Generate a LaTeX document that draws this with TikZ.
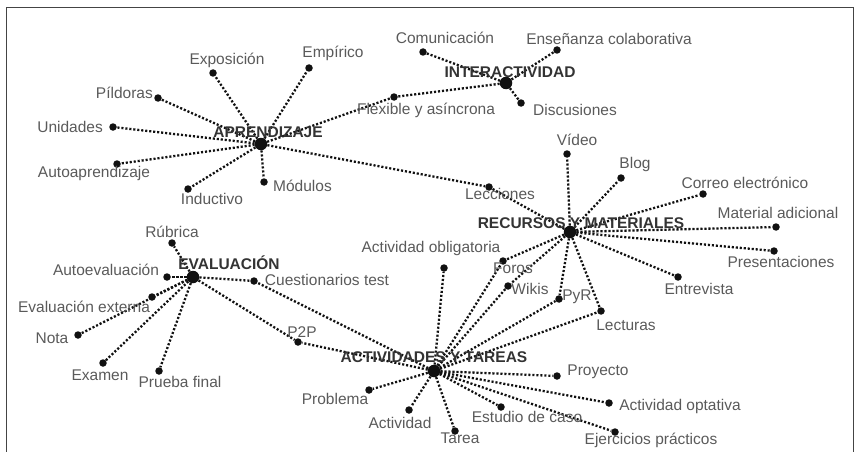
\documentclass[tikz,border=0pt]{standalone}
\usepackage{fontspec}
\setmainfont{Liberation Sans}
\usetikzlibrary{backgrounds}
\definecolor{ink}{HTML}{111111}
\definecolor{lbl}{HTML}{5A5A5A}
\definecolor{hubtxt}{HTML}{333333}
\definecolor{rim}{HTML}{444444}
\tikzset{
  leaf/.style={circle,fill=ink,inner sep=0pt,minimum size=7.5pt},
  hub/.style={leaf,minimum size=12.5pt},
  txt/.style={text=lbl,inner sep=1pt,font=\fontsize{15.5}{17}\selectfont},
  htxt/.style={txt,text=hubtxt,font=\fontsize{15.5}{17}\selectfont\bfseries},
  link/.style={draw=ink,line width=2.3pt,dash pattern=on 2.1pt off 1.9pt},
}

\begin{document}
\begin{tikzpicture}[x=1pt,y=-1pt]
  \useasboundingbox (0,0) rectangle (854,452);
  \draw[draw=rim,line width=1pt] (6,452) -- (6,8) -- (853,8) -- (853,452);
  % hubs
  \node[hub] (apr) at (261,144) {};
  \node[htxt] (apr-t) at (268,132) {APRENDIZAJE};
  \node[hub] (int) at (506,83) {};
  \node[htxt] (int-t) at (510,72) {INTERACTIVIDAD};
  \node[hub] (rec) at (570,232) {};
  \node[htxt] (rec-t) at (581,223) {RECURSOS Y MATERIALES};
  \node[hub] (eva) at (193,277) {};
  \node[htxt] (eva-t) at (229,263) {EVALUACIÓN};
  \node[hub] (act) at (434,371) {};
  \node[htxt] (act-t) at (434,357) {ACTIVIDADES Y TAREAS};
  % aprendizaje
  \node[leaf] (expo) at (213,73) {};
  \node[txt] (expo-t) at (227,60) {Exposición};
  \node[leaf] (empi) at (309,68) {};
  \node[txt] (empi-t) at (333,53) {Empírico};
  \node[leaf] (pild) at (158,98) {};
  \node[txt,anchor=east] (pild-t) at (154,93) {Píldoras};
  \node[leaf] (unid) at (113,127) {};
  \node[txt,anchor=east] (unid-t) at (104,127) {Unidades};
  \node[leaf] (auto) at (117,164) {};
  \node[txt] (auto-t) at (94,173) {Autoaprendizaje};
  \node[leaf] (indu) at (188,189) {};
  \node[txt] (indu-t) at (212,199) {Inductivo};
  \node[leaf] (modu) at (264,182) {};
  \node[txt,anchor=west] (modu-t) at (272,186) {Módulos};
  \node[leaf] (flex) at (394,97) {};
  \node[txt] (flex-t) at (426,110) {Flexible y asíncrona};
  % interactividad
  \node[leaf] (comu) at (423,52) {};
  \node[txt] (comu-t) at (445,38) {Comunicación};
  \node[leaf] (ense) at (557,50) {};
  \node[txt] (ense-t) at (609,39) {Enseñanza colaborativa};
  \node[leaf] (disc) at (521,103) {};
  \node[txt] (disc-t) at (575,110) {Discusiones};
  % recursos
  \node[leaf] (vide) at (567,154) {};
  \node[txt] (vide-t) at (577,140) {Vídeo};
  \node[leaf] (blog) at (621,178) {};
  \node[txt] (blog-t) at (635,164) {Blog};
  \node[leaf] (corr) at (703,194) {};
  \node[txt] (corr-t) at (745,183) {Correo electrónico};
  \node[leaf] (lecc) at (489,187) {};
  \node[txt] (lecc-t) at (500,194) {Lecciones};
  \node[leaf] (mate) at (776,227) {};
  \node[txt] (mate-t) at (778,213) {Material adicional};
  \node[leaf] (pres) at (774,251) {};
  \node[txt] (pres-t) at (781,262) {Presentaciones};
  \node[leaf] (entr) at (678,277) {};
  \node[txt] (entr-t) at (699,289) {Entrevista};
  \node[leaf] (foro) at (503,261) {};
  \node[txt] (foro-t) at (513,268) {Foros};
  \node[leaf] (wiki) at (508,286) {};
  \node[txt] (wiki-t) at (530,289) {Wikis};
  \node[leaf] (pyr) at (559,299) {};
  \node[txt] (pyr-t) at (577,297) {PyR};
  \node[leaf] (lect) at (601,311) {};
  \node[txt] (lect-t) at (626,325) {Lecturas};
  % evaluacion
  \node[leaf] (rubr) at (172,243) {};
  \node[txt] (rubr-t) at (172,232) {Rúbrica};
  \node[leaf] (aute) at (167,277) {};
  \node[txt] (aute-t) at (106,270) {Autoevaluación};
  \node[leaf] (cues) at (254,281) {};
  \node[txt] (cues-t) at (327,280) {Cuestionarios test};
  \node[leaf] (evex) at (152,297) {};
  \node[txt] (evex-t) at (84,307) {Evaluación externa};
  \node[leaf] (nota) at (78,335) {};
  \node[txt] (nota-t) at (52,338) {Nota};
  \node[leaf] (exam) at (103,363) {};
  \node[txt] (exam-t) at (100,375) {Examen};
  \node[leaf] (prue) at (159,371) {};
  \node[txt] (prue-t) at (180,382) {Prueba final};
  \node[leaf] (p2p) at (298,342) {};
  \node[txt] (p2p-t) at (302,332) {P2P};
  % actividades
  \node[leaf] (aobl) at (444,268) {};
  \node[txt] (aobl-t) at (431,248) {Actividad obligatoria};
  \node[leaf] (prob) at (369,390) {};
  \node[txt] (prob-t) at (335,399) {Problema};
  \node[leaf] (acti) at (409,410) {};
  \node[txt] (acti-t) at (400,423) {Actividad};
  \node[leaf] (tare) at (455,431) {};
  \node[txt] (tare-t) at (460,438) {Tarea};
  \node[leaf] (estu) at (501,407) {};
  \node[txt] (estu-t) at (527,417) {Estudio de caso};
  \node[leaf] (proy) at (557,376) {};
  \node[txt] (proy-t) at (598,372) {Proyecto};
  \node[leaf] (aopt) at (609,403) {};
  \node[txt] (aopt-t) at (680,406) {Actividad optativa};
  \node[leaf] (ejer) at (615,432) {};
  \node[txt] (ejer-t) at (651,440) {Ejercicios prácticos};
  % links
  \begin{scope}[on background layer]
    \foreach \t in {expo,empi,pild,unid,auto,indu,modu,flex,lecc}
      \draw[link] (apr) -- (\t);
    \foreach \t in {comu,ense,disc,flex}
      \draw[link] (int) -- (\t);
    \foreach \t in {vide,blog,corr,lecc,mate,pres,entr,foro,wiki,pyr,lect}
      \draw[link] (rec) -- (\t);
    \foreach \t in {rubr,aute,cues,evex,nota,exam,prue,p2p}
      \draw[link] (eva) -- (\t);
    \foreach \t in {aobl,foro,wiki,pyr,lect,proy,aopt,ejer,estu,tare,acti,prob,p2p,cues}
      \draw[link] (act) -- (\t);
  \end{scope}
\end{tikzpicture}
\end{document}
